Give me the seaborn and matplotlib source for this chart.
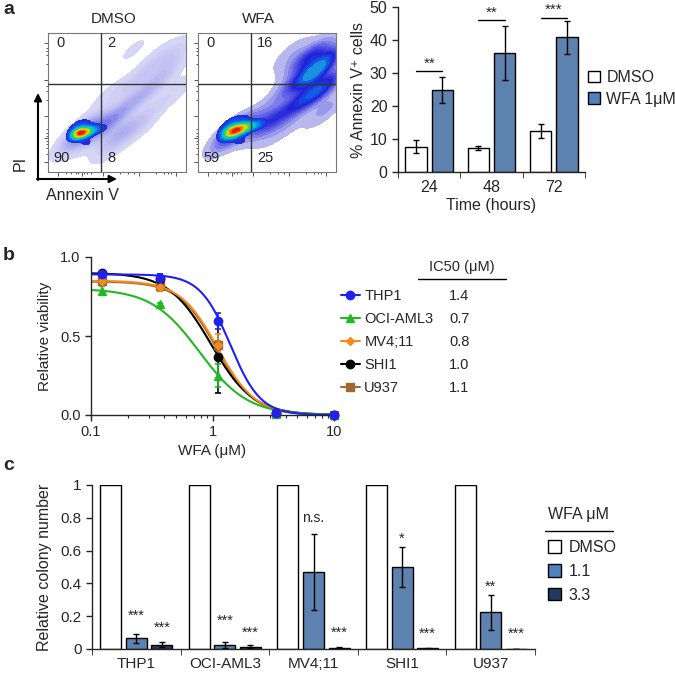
"""Three-panel WFA figure: flow plots + annexin bars, dose-response, colony assay."""

import matplotlib

matplotlib.use("Agg")
import matplotlib.pyplot as plt
import numpy as np
import pandas as pd
import seaborn as sns
from matplotlib.colors import LinearSegmentedColormap
from matplotlib.lines import Line2D
from matplotlib.patches import Patch

W, H = 675, 674

# ---- panel a: flow cytometry (density anchors in axis fractions) ----
flow_titles = ["DMSO", "WFA"]
dmso_quads = ["0", "2", "90", "8"]  # UL, UR, LL, LR
wfa_quads = ["0", "16", "59", "25"]
# dense live-cell core
dmso_core_x = [0.23, 0.27, 0.20, 0.31, 0.24, 0.36, 0.41, 0.28, 0.19, 0.32]
dmso_core_y = [0.28, 0.29, 0.25, 0.30, 0.35, 0.31, 0.32, 0.21, 0.31, 0.37]
dmso_core_w = [40, 18, 8, 9, 6, 5, 3, 5, 4, 2]
# sparse annexin+/PI+ cloud
dmso_cloud_x = [0.24, 0.33, 0.42, 0.50, 0.58, 0.66, 0.48, 0.48, 0.56, 0.64,
                0.72, 0.80, 0.86, 0.90, 0.80, 0.70, 0.60, 0.75, 0.92, 0.62, 0.45]
dmso_cloud_y = [0.28, 0.30, 0.32, 0.28, 0.30, 0.33, 0.20, 0.40, 0.46, 0.52,
                0.58, 0.65, 0.74, 0.84, 0.82, 0.70, 0.62, 0.45, 0.58, 0.88, 0.55]
dmso_cloud_w = [6, 4, 3, 2.0, 1.3, 0.9, 0.9, 1.6, 1.4, 1.2,
                1.2, 1.1, 1.1, 1.0, 0.8, 0.8, 0.8, 0.6, 0.6, 0.3, 0.6]
wfa_core_x = [0.25, 0.29, 0.22, 0.33, 0.38, 0.43, 0.26, 0.31, 0.20, 0.35, 0.47]
wfa_core_y = [0.29, 0.31, 0.25, 0.32, 0.33, 0.34, 0.37, 0.22, 0.32, 0.40, 0.35]
wfa_core_w = [30, 18, 8, 12, 8, 5, 6, 5, 4, 3, 3]
wfa_cloud_x = [0.25, 0.33, 0.20, 0.45, 0.50, 0.56, 0.62, 0.55, 0.68, 0.50,
               0.60, 0.72, 0.80, 0.88, 0.78, 0.86, 0.92, 0.84, 0.75, 0.95,
               0.70, 0.92, 0.68]
wfa_cloud_y = [0.29, 0.31, 0.24, 0.33, 0.35, 0.38, 0.42, 0.28, 0.36, 0.45,
               0.55, 0.50, 0.55, 0.58, 0.68, 0.72, 0.80, 0.84, 0.80, 0.65,
               0.65, 0.45, 0.85]
wfa_cloud_w = [6, 5, 2, 3, 3, 2.5, 2.5, 1.5, 1.5, 1.2,
               1.5, 4, 6, 6, 7, 9, 8, 7, 4, 5,
               3, 3, 2]
flow_ticks_major = [0.07, 0.245, 0.40, 0.66, 0.93]
flow_ticks_minor = [0.13, 0.17, 0.20, 0.22, 0.26, 0.28, 0.31, 0.52, 0.58, 0.62, 0.78, 0.84, 0.87, 0.89]

# ---- panel a: annexin V bars ----
time_points = ["24", "48", "72"]
annexin_dmso = [7.7, 7.3, 12.4]
annexin_dmso_err = [1.85, 0.7, 2.2]
annexin_wfa = [24.8, 36.1, 40.8]
annexin_wfa_err = [3.9, 8.1, 5.1]
annexin_sig = ["**", "**", "***"]
annexin_sig_y = [30.6, 46.0, 46.8]

# ---- panel b: dose response ----
wfa_conc = [0.123, 0.37, 1.11, 3.33, 10.0]
cell_lines = ["THP1", "OCI-AML3", "MV4;11", "SHI1", "U937"]
ic50_labels = ["1.4", "0.7", "0.8", "1.0", "1.1"]
via_thp1 = [0.895, 0.865, 0.595, 0.015, 0.002]
via_oci = [0.787, 0.70, 0.25, 0.005, 0.0]
via_mv4 = [0.85, 0.81, 0.443, 0.012, 0.0]
via_shi1 = [0.90, 0.86, 0.369, 0.01, 0.0]
via_u937 = [0.845, 0.815, 0.44, 0.015, 0.0]
err_thp1 = [0.01, 0.03, 0.05, 0.005, 0.002]
err_oci = [0.03, 0.01, 0.07, 0.003, 0.0]
err_mv4 = [0.02, 0.02, 0.07, 0.005, 0.0]
err_shi1 = [0.01, 0.035, 0.23, 0.005, 0.0]
err_u937 = [0.02, 0.03, 0.03, 0.005, 0.0]
fit_top = [0.89, 0.80, 0.85, 0.90, 0.845]
fit_mid = [1.4, 0.78, 1.1, 0.97, 1.08]
fit_hill = [3.5, 2.2, 2.8, 2.5, 2.8]
line_colors = ["#2020f0", "#22b822", "#f28a1e", "#000000", "#a0692e"]
line_markers = ["o", "^", "D", "o", "s"]

# ---- panel c: colony assay ----
c_doses = ["DMSO", "1.1", "3.3"]
colony_dmso = [1, 1, 1, 1, 1]
colony_low = [0.065, 0.025, 0.47, 0.50, 0.225]
colony_low_err = [0.027, 0.018, 0.23, 0.12, 0.107]
colony_high = [0.025, 0.015, 0.007, 0.006, 0.002]
colony_high_err = [0.015, 0.008, 0.004, 0.003, 0.001]
sig_low = ["***", "***", "n.s.", "*", "**"]
sig_low_y = [0.20, 0.17, 0.80, 0.675, 0.38]
sig_high = ["***", "***", "***", "***", "***"]
sig_high_y = [0.127, 0.10, 0.10, 0.09, 0.09]

BLUE = "#4f81bd"
NAVY = "#1f3b63"

sns.set_style("ticks")
plt.rcParams["font.family"] = ["Liberation Sans", "DejaVu Sans"]
plt.rcParams["axes.linewidth"] = 1.0
plt.rcParams["xtick.major.width"] = 1.0
plt.rcParams["ytick.major.width"] = 1.0

fig = plt.figure(figsize=(W / 100, H / 100), dpi=100)


def px_axes(x0, y0, x1, y1):
    return fig.add_axes([x0 / W, 1 - y1 / H, (x1 - x0) / W, (y1 - y0) / H])


core_cmap = LinearSegmentedColormap.from_list(
    "core",
    [(0.0, "#2525d8"), (0.12, "#0a60ee"), (0.28, "#00c0e0"), (0.45, "#30d060"),
     (0.65, "#d8e800"), (0.82, "#ff8a00"), (1.0, "#e00000")],
)
dmso_cloud_cmap = LinearSegmentedColormap.from_list(
    "dmso_cloud", ["#d8d8f6", "#a4a4ee", "#5c5ce4"])
wfa_cloud_cmap = LinearSegmentedColormap.from_list(
    "wfa_cloud", ["#c8c8f0", "#6a6ae8", "#2020d8", "#1060e8", "#20b0d8"])


def draw_flow(ax, core, cloud, cloud_cmap, quads):
    sns.kdeplot(x=cloud[0], y=cloud[1], weights=cloud[2], fill=True,
                levels=14, thresh=0.02, bw_method=0.42, cmap=cloud_cmap,
                clip=((0, 1), (0, 1)), ax=ax)
    sns.kdeplot(x=core[0], y=core[1], weights=core[2], fill=True,
                levels=16, thresh=0.12, bw_method=0.75, cmap=core_cmap,
                clip=((0, 1), (0, 1)), ax=ax)
    ax.set_xlim(0, 1)
    ax.set_ylim(0, 1)
    ax.axvline(0.384, color="#333333", lw=1, zorder=4)
    ax.axhline(0.633, color="#333333", lw=1, zorder=4)
    for sp in ax.spines.values():
        sp.set_visible(True)
        sp.set_color("#777777")
        sp.set_linewidth(0.8)
    ax.set_xticks(flow_ticks_major)
    ax.set_yticks(flow_ticks_major)
    ax.set_xticks(flow_ticks_minor, minor=True)
    ax.set_yticks(flow_ticks_minor, minor=True)
    ax.tick_params(which="both", labelbottom=False, labelleft=False,
                   color="#555555", width=0.7)
    ax.tick_params(which="major", length=3)
    ax.tick_params(which="minor", length=1.5)
    ax.set_xlabel("")
    ax.set_ylabel("")
    spots = [(0.06, 0.93), (0.43, 0.93), (0.04, 0.10), (0.43, 0.10)]
    for (qx, qy), q in zip(spots, quads):
        ax.text(qx, qy, q, transform=ax.transAxes, fontsize=10.5,
                ha="left", va="center", zorder=5)


ax_f1 = px_axes(48, 33, 186, 172)
draw_flow(ax_f1, (dmso_core_x, dmso_core_y, dmso_core_w),
          (dmso_cloud_x, dmso_cloud_y, dmso_cloud_w), dmso_cloud_cmap, dmso_quads)
ax_f2 = px_axes(198, 33, 336, 172)
draw_flow(ax_f2, (wfa_core_x, wfa_core_y, wfa_core_w),
          (wfa_cloud_x, wfa_cloud_y, wfa_cloud_w), wfa_cloud_cmap, wfa_quads)

# ---- annexin bars ----
ax_a = px_axes(398, 7, 585, 172)
annexin_df = pd.DataFrame({
    "time": time_points * 2,
    "treat": ["DMSO"] * 3 + ["WFA 1\u03bcM"] * 3,
    "pct": annexin_dmso + annexin_wfa,
})
sns.barplot(data=annexin_df, x="time", y="pct", hue="treat",
            hue_order=["DMSO", "WFA 1\u03bcM"],
            palette={"DMSO": "white", "WFA 1\u03bcM": BLUE},
            edgecolor="black", linewidth=1, width=0.85, gap=0.2,
            errorbar=None, legend=False, ax=ax_a)
for cont, errs in zip(ax_a.containers, [annexin_dmso_err, annexin_wfa_err]):
    xs = [b.get_x() + b.get_width() / 2 for b in cont]
    ys = [b.get_height() for b in cont]
    ax_a.errorbar(xs, ys, yerr=errs, fmt="none", ecolor="black",
                  elinewidth=1, capsize=2.5, capthick=1)
for i, (s, sy) in enumerate(zip(annexin_sig, annexin_sig_y)):
    b0 = ax_a.containers[0][i]
    b1 = ax_a.containers[1][i]
    x0 = b0.get_x() + b0.get_width() / 2
    x1 = b1.get_x() + b1.get_width() / 2
    ax_a.plot([x0, x1], [sy, sy], color="black", lw=1, clip_on=False)
    ax_a.text((x0 + x1) / 2, sy + 0.2, s, ha="center", va="bottom",
              fontsize=11, clip_on=False)
ax_a.set_ylim(0, 50)
ax_a.set_xlim(-0.5, 2.5)
ax_a.set_yticks([0, 10, 20, 30, 40, 50])
ax_a.set_xticks([-0.5, 0.5, 1.5, 2.5], minor=True)
ax_a.tick_params(axis="x", which="major", length=0, labelsize=11.5, pad=6)
ax_a.tick_params(axis="x", which="minor", length=4)
ax_a.tick_params(axis="y", length=4, labelsize=11.5)
ax_a.set_xlabel("Time (hours)", fontsize=11.5, labelpad=2)
ax_a.set_ylabel("% Annexin V\u207a cells", fontsize=11.5, labelpad=3)
sns.despine(ax=ax_a)
ax_a.legend(
    handles=[Patch(facecolor="white", edgecolor="black"),
             Patch(facecolor=BLUE, edgecolor="black")],
    labels=["DMSO", "WFA 1\u03bcM"], frameon=False, fontsize=11.5,
    handlelength=0.75, handleheight=0.75, handletextpad=0.4,
    labelspacing=0.42, borderpad=0, borderaxespad=0, loc="upper left",
    bbox_to_anchor=(588 / W, 1 - 70 / H), bbox_transform=fig.transFigure,
)

# ---- panel b ----
ax_b = px_axes(91, 257, 334, 415)
grid = np.logspace(-1, 1, 300)
curve_df = pd.concat([
    pd.DataFrame({"conc": grid, "via": top / (1 + (grid / mid) ** hill), "line": name})
    for name, top, mid, hill in zip(cell_lines, fit_top, fit_mid, fit_hill)
])
draw_order = [4, 3, 2, 1, 0]
sns.lineplot(data=curve_df, x="conc", y="via", hue="line",
             hue_order=[cell_lines[i] for i in draw_order],
             palette=dict(zip(cell_lines, line_colors)), lw=1.5,
             legend=False, ax=ax_b)
vias = [via_thp1, via_oci, via_mv4, via_shi1, via_u937]
errs = [err_thp1, err_oci, err_mv4, err_shi1, err_u937]
for i in draw_order:
    ms = 4.5 if line_markers[i] == "D" else 6
    ax_b.errorbar(wfa_conc, vias[i], yerr=errs[i], fmt=line_markers[i],
                  color=line_colors[i], ms=ms, capsize=2.5, elinewidth=1.2,
                  capthick=1.2, clip_on=False, zorder=3)
ax_b.set_xscale("log")
ax_b.set_xlim(0.1, 10)
ax_b.set_ylim(0, 1)
ax_b.set_yticks([0, 0.5, 1.0])
ax_b.set_yticklabels(["0.0", "0.5", "1.0"])
ax_b.set_xticks([0.1, 1, 10])
ax_b.set_xticklabels(["0.1", "1", "10"])
ax_b.tick_params(which="major", length=4, labelsize=10.5)
ax_b.tick_params(which="minor", length=2.5, width=0.8)
ax_b.set_xlabel("WFA (\u03bcM)", fontsize=11, labelpad=3)
ax_b.set_ylabel("Relative viability", fontsize=11, labelpad=6)
sns.despine(ax=ax_b)
b_handles = [
    Line2D([], [], color=c, marker=m, lw=1.5, ms=4.5 if m == "D" else 6)
    for c, m in zip(line_colors, line_markers)
]
leg_b = ax_b.legend(
    handles=b_handles, labels=cell_lines, frameon=False, fontsize=10.5,
    handlelength=1.3, handletextpad=0.3, labelspacing=0.62, borderpad=0,
    borderaxespad=0, loc="upper left", bbox_to_anchor=(341 / W, 1 - 289 / H),
    bbox_transform=fig.transFigure,
)

# ---- panel c ----
ax_c = px_axes(92, 485, 535, 649)
colony_df = pd.DataFrame({
    "line": cell_lines * 3,
    "dose": ["DMSO"] * 5 + ["1.1"] * 5 + ["3.3"] * 5,
    "rel": colony_dmso + colony_low + colony_high,
})
sns.barplot(data=colony_df, x="line", y="rel", hue="dose", hue_order=c_doses,
            palette={"DMSO": "white", "1.1": BLUE, "3.3": NAVY},
            edgecolor="black", linewidth=1, width=0.864, gap=0.177,
            errorbar=None, legend=False, ax=ax_c)
for cont, errs_c, labels, label_y in [
    (ax_c.containers[1], colony_low_err, sig_low, sig_low_y),
    (ax_c.containers[2], colony_high_err, sig_high, sig_high_y),
]:
    xs = [b.get_x() + b.get_width() / 2 for b in cont]
    ys = [b.get_height() for b in cont]
    ax_c.errorbar(xs, ys, yerr=errs_c, fmt="none", ecolor="black",
                  elinewidth=1, capsize=2.5, capthick=1)
    for x, s, sy in zip(xs, labels, label_y):
        ax_c.text(x, sy, s, ha="center", va="center",
                  fontsize=10 if s == "n.s." else 10.5)
ax_c.set_ylim(0, 1)
ax_c.set_xlim(-0.5, 4.5)
ax_c.set_yticks([0, 0.2, 0.4, 0.6, 0.8, 1.0])
ax_c.set_yticklabels(["0", "0.2", "0.4", "0.6", "0.8", "1"])
ax_c.set_xticks([-0.5, 0.5, 1.5, 2.5, 3.5, 4.5], minor=True)
ax_c.tick_params(axis="x", which="major", length=0, labelsize=11, pad=6)
ax_c.tick_params(axis="x", which="minor", length=4)
ax_c.tick_params(axis="y", length=4, labelsize=11)
ax_c.set_xlabel("")
ax_c.set_ylabel("Relative colony number", fontsize=11.5, labelpad=6)
sns.despine(ax=ax_c)
ax_c.legend(
    handles=[Patch(facecolor="white", edgecolor="black"),
             Patch(facecolor=BLUE, edgecolor="black"),
             Patch(facecolor=NAVY, edgecolor="black")],
    labels=c_doses, frameon=False, fontsize=11.5,
    handlelength=0.8, handleheight=0.8, handletextpad=0.5,
    labelspacing=0.56, borderpad=0, borderaxespad=0, loc="upper left",
    bbox_to_anchor=(548 / W, 1 - 540 / H), bbox_transform=fig.transFigure,
)

# ---- overlay: panel letters, flow titles/arrows, legend headers ----
ov = fig.add_axes([0, 0, 1, 1], zorder=10)
ov.set_xlim(0, W)
ov.set_ylim(H, 0)
ov.set_axis_off()
for letter, (lx, ly) in zip("abc", [(3, 9), (3, 255), (3, 466)]):
    ov.text(lx, ly, letter, fontsize=14, fontweight="bold", va="center")
ov.text(114, 19, flow_titles[0], fontsize=11, ha="center", va="center")
ov.text(258, 19, flow_titles[1], fontsize=11, ha="center", va="center")
arrow = dict(arrowstyle="-|>", lw=1.5, color="black", mutation_scale=11,
             shrinkA=0, shrinkB=0)
ov.annotate("", xy=(38, 93), xytext=(38, 180), arrowprops=arrow)
ov.annotate("", xy=(117, 179), xytext=(37, 179), arrowprops=arrow)
ov.text(20, 163, "PI", fontsize=11.5, rotation=90, ha="center", va="center")
ov.text(82, 195, "Annexin V", fontsize=11.5, ha="center", va="center")
ov.text(462, 267, "IC50 (\u03bcM)", fontsize=10.5, ha="center", va="center")
ov.plot([418, 506], [279, 279], color="black", lw=1)
ov.text(548, 515, "WFA \u03bcM", fontsize=11.5, ha="left", va="center")
ov.plot([545, 613], [531, 531], color="black", lw=1)

fig.canvas.draw()
renderer = fig.canvas.get_renderer()
for t, v in zip(leg_b.get_texts(), ic50_labels):
    bb = t.get_window_extent(renderer)
    ov.text(449, H - (bb.y0 + bb.y1) / 2, v, fontsize=10.5, va="center")

fig.savefig("out.png", dpi=100)
